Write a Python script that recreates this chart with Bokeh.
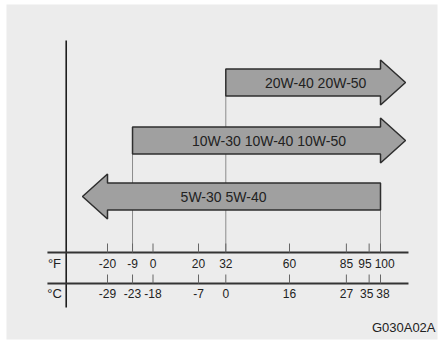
from bokeh.plotting import figure
from bokeh.models import Range1d
from bokeh.core.properties import value
from bokeh.embed import file_html
from bokeh.resources import INLINE

# ---- data ----
fahrenheit = [-20, -9, 0, 20, 32, 60, 85, 95, 100]
celsius = [-29, -23, -18, -7, 0, 16, 27, 35, 38]
oil_grades = ["20W-40 20W-50", "10W-30 10W-40 10W-50", "5W-30 5W-40"]
range_low_f = [32, -9, -20]
range_high_f = [100, 100, 100]
arrow_points = ["high", "high", "low"]
code_label = "G030A02A"

# ---- layout (y in page pixels, x in degrees Fahrenheit) ----
PX_PER_F = 2.275
HEAD_LEN = 25 / PX_PER_F
ROW_Y = [82, 140, 196]
BODY_HALF = 13.5
HEAD_HALF = 22.5
F_AXIS_Y = 252
C_AXIS_Y = 283
TICK_LEN = 9
AXIS_X0 = -46.4
AXIS_X1 = 112.3
VAXIS_X = -38.15
FONT = value("Liberation Sans")
TICK_FONT_PX = 12
TEXT_COLOR = "#222222"


def label_offsets(xs_f, labels, font_px, gap=3.0):
    """Small label-repulsion: pixel offsets so neighbouring labels do not overlap."""
    pos = [x * PX_PER_F for x in xs_f]
    widths = [sum((0.333 if c == "-" else 0.556) * font_px for c in s) for s in labels]
    off = [0.0] * len(pos)
    for _ in range(50):
        moved = False
        for i in range(len(pos) - 1):
            a, b = pos[i] + off[i], pos[i + 1] + off[i + 1]
            need = (widths[i] + widths[i + 1]) / 2 + gap
            if b - a < need - 0.01:
                d = (need - (b - a)) / 2
                off[i] -= d
                off[i + 1] += d
                moved = True
        if not moved:
            break
    return off


p = figure(width=440, height=341, output_backend="svg", toolbar_location=None,
           x_range=Range1d(-64.396, 125.055), y_range=Range1d(339, 4),
           x_axis_type=None, y_axis_type=None, min_border=0,
           min_border_left=6, min_border_right=3, min_border_top=4, min_border_bottom=2)
p.grid.visible = False
p.outline_line_color = None
p.background_fill_color = "#ececec"
p.border_fill_color = "white"

# guide lines from arrow closed ends to F axis
gx, gy0 = [], []
for lo, hi, d, y in zip(range_low_f, range_high_f, arrow_points, ROW_Y):
    gx.append(lo if d == "high" else hi)
    gy0.append(y + BODY_HALF)
p.segment(x0=gx, y0=gy0, x1=gx, y1=[F_AXIS_Y] * len(gx), line_color="#8c8c8c", line_width=1)

# arrows
xs, ys, label_x = [], [], []
for lo, hi, d, y in zip(range_low_f, range_high_f, arrow_points, ROW_Y):
    t, b = y - BODY_HALF, y + BODY_HALF
    ht, hb = y - HEAD_HALF, y + HEAD_HALF
    if d == "high":
        tip = hi + HEAD_LEN
        xs.append([lo, hi, hi, tip, hi, hi, lo])
        label_x.append((lo + tip) / 2)
    else:
        tip = lo - HEAD_LEN
        xs.append([hi, lo, lo, tip, lo, lo, hi])
        label_x.append((tip + hi) / 2 - 3.5)
    ys.append([t, t, ht, y, hb, b, b])
p.patches(xs, ys, fill_color="#a0a0a0", line_color="#2e2e2e", line_width=1.5)
p.text(x=label_x, y=ROW_Y, text=oil_grades, text_font=FONT, text_font_size="14px",
       text_align="center", text_baseline="middle", text_color=TEXT_COLOR)

# vertical axis line
p.segment(x0=[VAXIS_X], y0=[40], x1=[VAXIS_X], y1=[307], line_color="#1e1e1e", line_width=1.6)

# horizontal scale lines
p.segment(x0=[AXIS_X0, AXIS_X0], y0=[F_AXIS_Y, C_AXIS_Y], x1=[AXIS_X1, AXIS_X1],
          y1=[F_AXIS_Y, C_AXIS_Y], line_color="#333333", line_width=2)

# ticks
n = len(fahrenheit)
p.segment(x0=fahrenheit, y0=[F_AXIS_Y - TICK_LEN] * n, x1=fahrenheit, y1=[F_AXIS_Y] * n,
          line_color="#666666", line_width=1)
p.segment(x0=fahrenheit, y0=[C_AXIS_Y - TICK_LEN] * n, x1=fahrenheit, y1=[C_AXIS_Y] * n,
          line_color="#666666", line_width=1)

# tick labels
f_text = [str(v) for v in fahrenheit]
c_text = [str(v) for v in celsius]
p.text(x=fahrenheit, y=[F_AXIS_Y + 10.5] * n, text=f_text,
       x_offset=label_offsets(fahrenheit, f_text, TICK_FONT_PX),
       text_font=FONT, text_font_size=f"{TICK_FONT_PX}px", text_align="center",
       text_baseline="middle", text_color=TEXT_COLOR)
p.text(x=fahrenheit, y=[C_AXIS_Y + 10] * n, text=c_text,
       x_offset=label_offsets(fahrenheit, c_text, TICK_FONT_PX),
       text_font=FONT, text_font_size=f"{TICK_FONT_PX}px", text_align="center",
       text_baseline="middle", text_color=TEXT_COLOR)

# unit labels
p.text(x=[-43.3, -43.3], y=[F_AXIS_Y + 10.5, C_AXIS_Y + 9.5], text=["°F", "°C"],
       text_font=FONT, text_font_size="13px", text_align="center",
       text_baseline="middle", text_color=TEXT_COLOR)

# figure code
p.text(x=[124.18], y=[327], text=[code_label], text_font=FONT, text_font_size="13px",
       text_align="right", text_baseline="middle", text_color=TEXT_COLOR)

open("out.html", "w").write(file_html(p, INLINE))
